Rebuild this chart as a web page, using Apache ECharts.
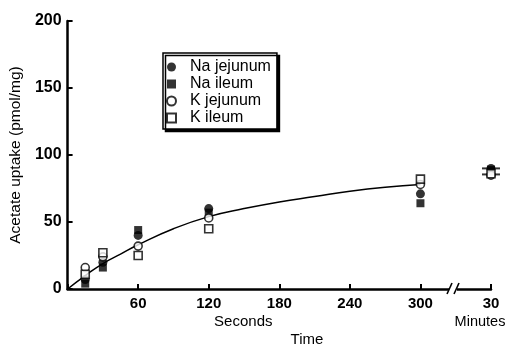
<!DOCTYPE html>
<html><head><meta charset="utf-8">
<script src="https://cdn.jsdelivr.net/npm/echarts@6/dist/echarts.min.js"></script>
<style>html,body{margin:0;padding:0;background:#fff}#c{width:513px;height:346px}</style>
</head><body><div id="c"></div>
<script>
// Time points (seconds); 360 stands for the 30-minute point after the axis break
const times = [15, 30, 60, 120, 300, 360];
const naJejunum = [7, 20, 40, 60, 71, 90];
const naIleum = [4, 16, 44, 57, 64, 89];
const kJejunum = [16, 24, 32, 53, 78, 85];
const kIleum = [11, 27, 25, 45, 82, 86];
// mean bars at 30 min
const meanBarTimes = [360, 360];
const meanBarValues = [90, 85.5];
// fitted curve
const curveTimes = [0, 15, 30, 45, 60, 90, 120, 150, 180, 210, 240, 270, 300];
const curveValues = [0, 10, 19, 26, 33, 45, 54, 60, 65, 69, 73, 76, 78];
const yTicks = [0, 50, 100, 150, 200];
const xTicks = [60, 120, 180, 240, 300];

const font = '"Liberation Sans", Arial, sans-serif';
const zip = (xs, ys) => xs.map((x, i) => [x, ys[i]]);

const chart = echarts.init(document.getElementById('c'));
const filled = {color: '#000'};
const open = {color: '#fff', borderColor: '#000', borderWidth: 1.6};
chart.setOption({
  animation: false,
  grid: {left: 63, right: 22, top: 21, bottom: 57},
  xAxis: {
    type: 'value', min: 0, max: 360, interval: 60,
    axisLine: {lineStyle: {color: '#000', width: 2.5}},
    axisTick: {inside: true, length: 5, lineStyle: {color: '#000', width: 2}},
    splitLine: {show: false},
    axisLabel: {color: '#000', fontFamily: font, fontWeight: 'bold', fontSize: 15, margin: 7,
      formatter: v => v === 360 ? '30' : (xTicks.indexOf(v) >= 0 ? String(v) : '')}
  },
  yAxis: {
    type: 'value', min: 0, max: 200, interval: 50,
    name: 'Acetate uptake (pmol/mg)', nameLocation: 'middle', nameGap: 30,
    nameTextStyle: {color: '#000', fontFamily: font, fontSize: 15.5},
    axisLine: {lineStyle: {color: '#000', width: 2.5}},
    axisTick: {inside: true, length: 5, lineStyle: {color: '#000', width: 2}},
    splitLine: {show: false},
    axisLabel: {color: '#000', fontFamily: font, fontWeight: 'bold', fontSize: 16, margin: 6,
      formatter: v => yTicks.indexOf(v) >= 0 ? String(v) : ''}
  },
  legend: {
    orient: 'vertical', left: 163, top: 53, itemGap: 1,
    itemWidth: 9, itemHeight: 9,
    padding: [6, 6, 3, 3],
    backgroundColor: '#fff', borderColor: '#000', borderWidth: 1.5,
    shadowColor: '#000', shadowBlur: 0, shadowOffsetX: 2.5, shadowOffsetY: 2.5,
    textStyle: {color: '#000', fontFamily: font, fontSize: 16, lineHeight: 16, padding: [0, 0, 0, 9]},
    data: ['Na jejunum', 'Na ileum', 'K jejunum', 'K ileum']
  },
  series: [
    {type: 'line', data: zip(curveTimes, curveValues), smooth: true, symbol: 'none',
     lineStyle: {color: '#000', width: 1.5}, z: 1, silent: true},
    {type: 'scatter', name: 'Na jejunum', symbol: 'circle', symbolSize: 9, itemStyle: filled, data: zip(times, naJejunum), z: 3},
    {type: 'scatter', name: 'Na ileum', symbol: 'rect', symbolSize: 8, itemStyle: filled, data: zip(times, naIleum), z: 3},
    {type: 'scatter', name: 'K jejunum', symbol: 'circle', symbolSize: 8, itemStyle: open, data: zip(times, kJejunum), z: 4},
    {type: 'scatter', name: 'K ileum', symbol: 'rect', symbolSize: 8, itemStyle: open, data: zip(times, kIleum), z: 4},
    {type: 'scatter', symbol: 'rect', symbolSize: [18, 2], itemStyle: filled, data: zip(meanBarTimes, meanBarValues), z: 2, silent: true}
  ]
});

// axis break and axis texts
const bx = chart.convertToPixel({xAxisIndex: 0}, 326);
const x300 = chart.convertToPixel({xAxisIndex: 0}, 180);
const x360 = chart.convertToPixel({xAxisIndex: 0}, 360);
const y0 = chart.convertToPixel({yAxisIndex: 0}, 0);
chart.setOption({
  graphic: [
    {type: 'rect', shape: {x: bx - 2, y: y0 - 3, width: 8, height: 6}, style: {fill: '#fff'}, z: 100},
    {type: 'line', shape: {x1: bx - 4, y1: y0 + 5, x2: bx + 1, y2: y0 - 6}, style: {stroke: '#000', lineWidth: 1.6}, z: 101},
    {type: 'line', shape: {x1: bx + 3, y1: y0 + 5, x2: bx + 8, y2: y0 - 6}, style: {stroke: '#000', lineWidth: 1.6}, z: 101},
    {type: 'text', style: {text: 'Seconds', x: x300 - 36, y: y0 + 33, fill: '#000', font: '15px ' + font, align: 'center', verticalAlign: 'middle'}},
    {type: 'text', style: {text: 'Time', x: 307, y: y0 + 51, fill: '#000', font: '15px ' + font, align: 'center', verticalAlign: 'middle'}},
    {type: 'text', style: {text: 'Minutes', x: x360 - 11, y: y0 + 33, fill: '#000', font: '14.5px ' + font, align: 'center', verticalAlign: 'middle'}}
  ]
});
</script></body></html>
